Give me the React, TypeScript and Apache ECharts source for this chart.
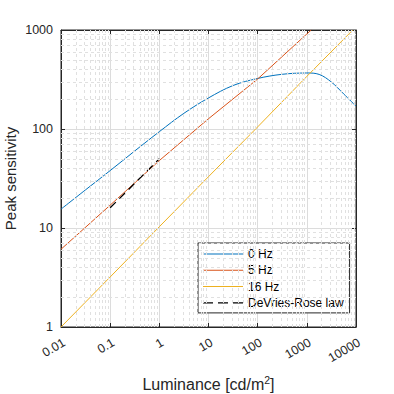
import React, { useEffect, useRef } from "react";
import * as echarts from "echarts";

// ---- Data ----
const lum0 = [0.01, 0.0316, 0.1, 0.316, 1, 3.16, 10, 31.6, 100, 316, 1000, 1780, 3160, 5620, 10000];
const sens0 = [15.5, 24.3, 38, 60, 94, 144, 206, 275, 324, 357, 368, 356, 298, 226, 170];

const lum5 = [0.01, 0.1, 1, 10, 100, 1000, 1230];
const sens5 = [6.1, 17, 48, 127, 320, 912, 1000];

const lum16 = [0.01, 0.1, 1, 10, 100, 1000, 8600];
const sens16 = [1.0, 3.2, 10.3, 33, 105, 340, 1000];

const lumDR = [0.1, 1];
const sensDR = [16, 50];

const xDecades = [0.01, 0.1, 1, 10, 100, 1000];
const yDecades = [1, 10, 100];
const minorMultipliers = [2, 3, 4, 5, 6, 7, 8, 9];

const seriesNames = ["0 Hz", "5 Hz", "16 Hz", "DeVries-Rose law"];
const colors = ["#0072BD", "#D95319", "#EDB120", "#000000"];

const FONT = "'Liberation Sans', Arial, Helvetica, sans-serif";
const AX = "#262626";

const ICON_SOLID = "path://M0,0M40,14M0,6.5h40v1h-40z";
const ICON_DASH = "path://M0,0M40,14M0,6.4h10v1.3h-10zM15,6.4h10v1.3h-10zM30,6.4h10v1.3h-10z";

const zip = (xs: number[], ys: number[]) => xs.map((x, i) => [x, ys[i]]);
const fmt = (v: number) => String(Number(v.toPrecision(6)));

export default function App() {
  const ref = useRef<HTMLDivElement>(null);
  useEffect(() => {
    if (!ref.current) return;
    const chart = echarts.init(ref.current, undefined, { renderer: "svg" });
    const xMinor: number[] = [];
    xDecades.forEach((d) => minorMultipliers.forEach((m) => xMinor.push(d * m)));
    const yMinor: number[] = [];
    yDecades.forEach((d) => minorMultipliers.forEach((m) => yMinor.push(d * m)));

    const axisCommon = {
      axisLine: { show: true, lineStyle: { color: AX, width: 1 } },
      axisTick: { show: true, inside: true, length: 4, lineStyle: { color: AX } },
    };

    const option: any = {
      animation: false,
      backgroundColor: "#ffffff",
      textStyle: { fontFamily: FONT },
      grid: {
        left: 61,
        top: 30,
        right: 38,
        bottom: 67,
        containLabel: false,
        outerBoundsMode: "none",
        show: true,
        borderColor: AX,
        borderWidth: 1,
        backgroundColor: "transparent",
      },
      legend: {
        data: seriesNames.map((n, i) => ({ name: n, icon: i === 3 ? ICON_DASH : ICON_SOLID })),
        orient: "vertical",
        left: 198,
        top: 243,
        itemWidth: 40,
        itemHeight: 14,
        itemGap: 2.3,
        padding: [4, 6, 3, 5],
        borderColor: AX,
        borderWidth: 1,
        backgroundColor: "#ffffff",
        selectedMode: false,
        textStyle: { fontSize: 12, color: "#000", fontFamily: FONT },
      },
      xAxis: [
        {
          type: "log",
          logBase: 10,
          min: 0.01,
          max: 10000,
          position: "bottom",
          ...axisCommon,
          axisLabel: {
            rotate: 30,
            margin: 9,
            fontSize: 12.5,
            color: AX,
            fontFamily: FONT,
            align: "right",
            verticalAlign: "top",
            formatter: (v: number) => fmt(v),
          },
          splitLine: { show: true, lineStyle: { color: "#dcdcdc", width: 1 } },
          name: "Luminance [cd/m{sup|2}]",
          nameLocation: "middle",
          nameGap: 47,
          nameMoveOverlap: false,
          nameTextStyle: {
            fontSize: 16,
            color: AX,
            fontFamily: FONT,
            lineHeight: 20,
            rich: {
              sup: { fontSize: 10.5, lineHeight: 4, verticalAlign: "top", color: AX, fontFamily: FONT },
            },
          },
        },
        {
          type: "log",
          logBase: 10,
          min: 0.01,
          max: 10000,
          position: "top",
          ...axisCommon,
          axisLabel: { show: false },
          splitLine: { show: false },
        },
      ],
      yAxis: [
        {
          type: "log",
          logBase: 10,
          min: 1,
          max: 1000,
          position: "left",
          ...axisCommon,
          axisLabel: {
            margin: 8,
            fontSize: 12.5,
            color: AX,
            fontFamily: FONT,
            formatter: (v: number) => fmt(v),
          },
          splitLine: { show: true, lineStyle: { color: "#dcdcdc", width: 1 } },
          name: "Peak sensitivity",
          nameLocation: "middle",
          nameGap: 43,
          nameMoveOverlap: false,
          nameTextStyle: { fontSize: 15, color: AX, fontFamily: FONT },
        },
        {
          type: "log",
          logBase: 10,
          min: 1,
          max: 1000,
          position: "right",
          ...axisCommon,
          axisLabel: { show: false },
          splitLine: { show: false },
        },
      ],
      series: [
        {
          name: "minor-grid",
          type: "line",
          data: [],
          z: 1,
          silent: true,
          markLine: {
            silent: true,
            symbol: ["none", "none"],
            label: { show: false },
            emphasis: { disabled: true },
            lineStyle: { color: "#e0e0e0", type: [3, 3], width: 1 },
            data: [
              ...xMinor.map((v) => ({ xAxis: v })),
              ...yMinor.map((v) => ({ yAxis: v })),
            ],
          },
        },
        {
          name: seriesNames[0],
          type: "line",
          data: zip(lum0, sens0),
          smooth: 0.35,
          showSymbol: false,
          symbol: "none",
          lineStyle: { color: colors[0], width: 1 },
          itemStyle: { color: colors[0] },
          z: 3,
        },
        {
          name: seriesNames[1],
          type: "line",
          data: zip(lum5, sens5),
          showSymbol: false,
          symbol: "none",
          lineStyle: { color: colors[1], width: 1 },
          itemStyle: { color: colors[1] },
          z: 3,
        },
        {
          name: seriesNames[2],
          type: "line",
          data: zip(lum16, sens16),
          showSymbol: false,
          symbol: "none",
          lineStyle: { color: colors[2], width: 1 },
          itemStyle: { color: colors[2] },
          z: 3,
        },
        {
          name: seriesNames[3],
          type: "line",
          data: zip(lumDR, sensDR),
          showSymbol: false,
          symbol: "none",
          lineStyle: { color: colors[3], width: 1.3, type: [8, 5] },
          itemStyle: { color: colors[3] },
          z: 4,
        },
      ],
    };
    chart.setOption(option);
    return () => chart.dispose();
  }, []);
  return (
    <div
      ref={ref}
      style={{ position: "fixed", left: 0, top: 0, width: 394, height: 394, background: "#fff" }}
    />
  );
}
